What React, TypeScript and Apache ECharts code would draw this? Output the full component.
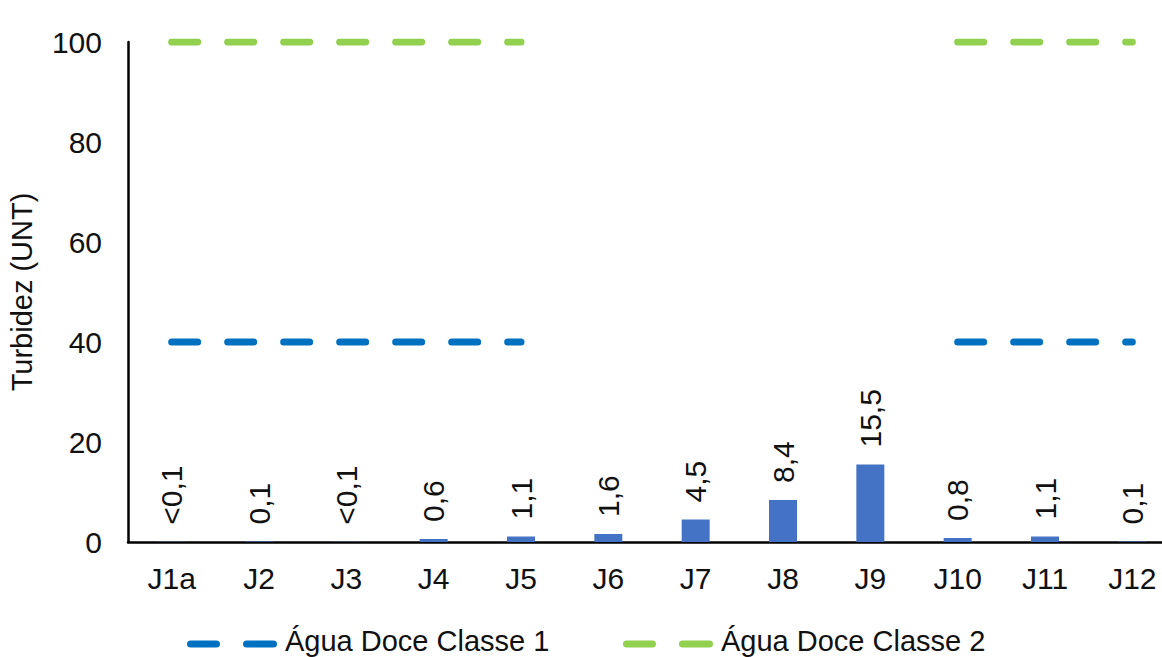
import React, { useEffect, useRef } from "react";
import * as echarts from "echarts";

const categories = ["J1a", "J2", "J3", "J4", "J5", "J6", "J7", "J8", "J9", "J10", "J11", "J12"];
const turbidez = [0.05, 0.1, 0.05, 0.6, 1.1, 1.6, 4.5, 8.4, 15.5, 0.8, 1.1, 0.1];
const turbidezLabels = ["<0,1", "0,1", "<0,1", "0,6", "1,1", "1,6", "4,5", "8,4", "15,5", "0,8", "1,1", "0,1"];
const classe1 = [40, 40, 40, 40, 40, null, null, null, null, 40, 40, 40];
const classe2 = [100, 100, 100, 100, 100, null, null, null, null, 100, 100, 100];
const yTicks = { min: 0, max: 100, interval: 20 };
const seriesNames = ["Água Doce Classe 1", "Água Doce Classe 2"];
const seriesColors = ["#0070C0", "#92D050"];

const FONT = "'Liberation Sans', Arial, sans-serif";
const TXT = "#111";

function legendItem(x: number, y: number, color: string, text: string) {
  return {
    type: "group",
    x,
    y,
    children: [
      { type: "line", shape: { x1: 3.5, y1: 0, x2: 29.5, y2: 0 }, style: { stroke: color, lineWidth: 7, lineCap: "round" } },
      { type: "line", shape: { x1: 59.5, y1: 0, x2: 86.5, y2: 0 }, style: { stroke: color, lineWidth: 7, lineCap: "round" } },
      {
        type: "text",
        x: 98,
        y: -3,
        style: { text, fontFamily: FONT, fontSize: 29, fill: TXT, verticalAlign: "middle", align: "left" },
      },
    ],
  };
}

export default function App() {
  const ref = useRef<HTMLDivElement>(null);
  useEffect(() => {
    document.body.style.margin = "0";
    const chart = echarts.init(ref.current!, null, { renderer: "svg" });
    chart.setOption({
      animation: false,
      textStyle: { fontFamily: FONT },
      grid: { left: 128, width: 1048, top: 42, bottom: 115, containLabel: false, outerBoundsMode: "none" },
      legend: { show: false },
      graphic: [
        legendItem(187, 644, seriesColors[0], seriesNames[0]),
        legendItem(623, 644, seriesColors[1], seriesNames[1]),
      ],
      xAxis: {
        type: "category",
        data: categories,
        axisLine: { lineStyle: { color: "#000", width: 2.5 } },
        axisTick: { show: false },
        axisLabel: { fontFamily: FONT, fontSize: 30, color: TXT, margin: 21 },
      },
      yAxis: {
        type: "value",
        min: yTicks.min,
        max: yTicks.max,
        interval: yTicks.interval,
        name: "Turbidez (UNT)",
        nameLocation: "middle",
        nameGap: 92,
        nameTextStyle: { fontFamily: FONT, fontSize: 29, color: TXT },
        axisLine: { show: true, lineStyle: { color: "#000", width: 2.5 } },
        axisTick: { show: false },
        splitLine: { show: false },
        axisLabel: { fontFamily: FONT, fontSize: 30, color: TXT, margin: 26 },
      },
      series: [
        {
          name: "Turbidez",
          type: "bar",
          data: turbidez,
          barWidth: 28,
          itemStyle: { color: "#4472C4" },
          label: {
            show: true,
            position: "top",
            rotate: 90,
            align: "left",
            verticalAlign: "middle",
            distance: 17,
            fontFamily: FONT,
            fontSize: 30,
            color: TXT,
            formatter: (p: any) => turbidezLabels[p.dataIndex],
          },
        },
        {
          name: seriesNames[0],
          type: "line",
          data: classe1,
          symbol: "none",
          connectNulls: false,
          lineStyle: { color: seriesColors[0], width: 7, type: [26, 30], cap: "round" },
          itemStyle: { color: seriesColors[0] },
        },
        {
          name: seriesNames[1],
          type: "line",
          data: classe2,
          symbol: "none",
          connectNulls: false,
          lineStyle: { color: seriesColors[1], width: 7, type: [26, 30], cap: "round" },
          itemStyle: { color: seriesColors[1] },
        },
      ],
    });
    return () => chart.dispose();
  }, []);
  return <div ref={ref} style={{ width: 1162, height: 657 }} />;
}
